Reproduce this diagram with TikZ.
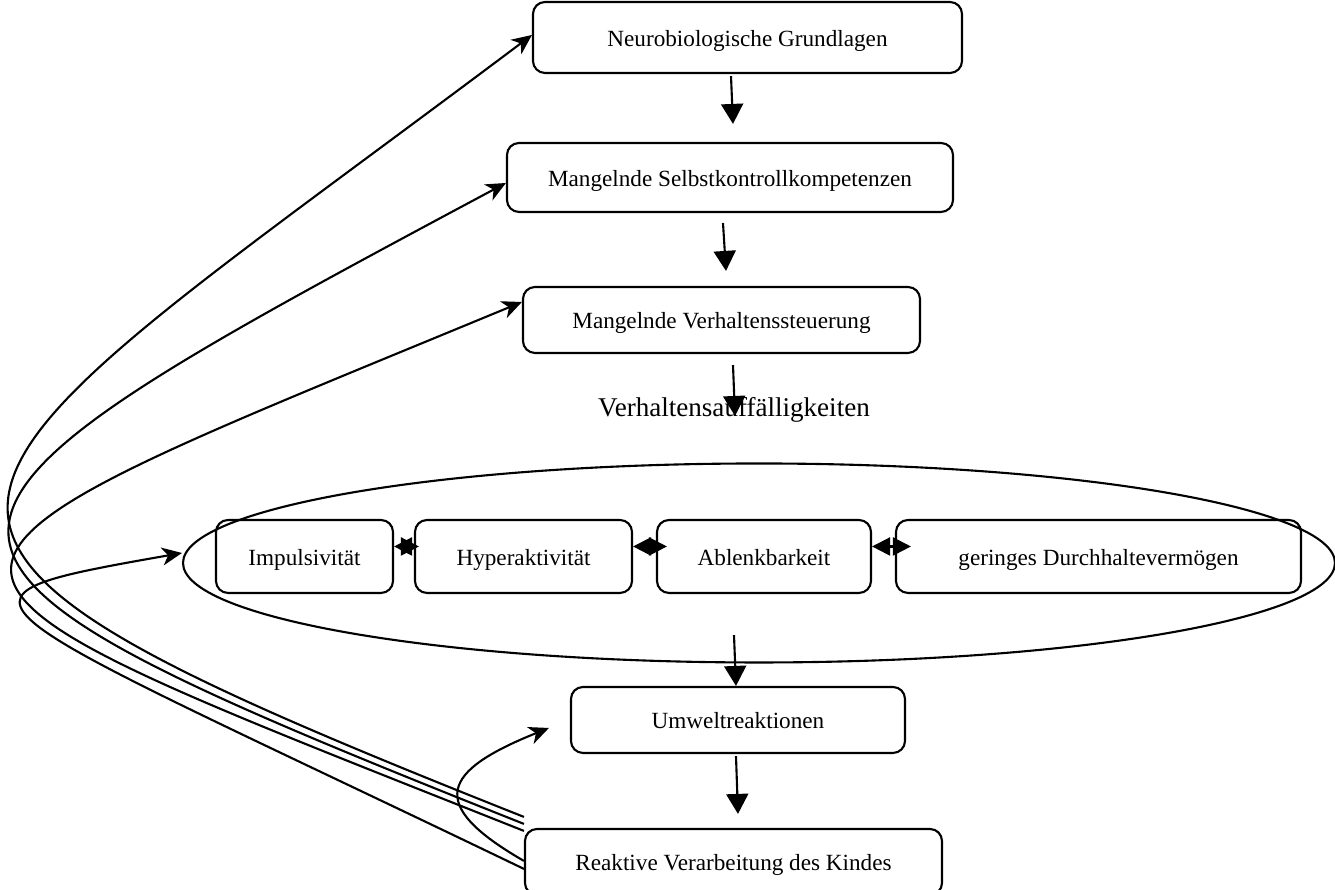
\documentclass[tikz,border=0pt]{standalone}
\usepackage{fontspec}
\setmainfont{Liberation Serif}
\usetikzlibrary{arrows.meta,shapes.geometric}

\begin{document}
\begin{tikzpicture}[font=\fontsize{6.6}{8}\selectfont, line width=0.6pt,
      bx/.style={draw,rounded corners=1.2mm,minimum height=0.69cm,inner sep=1pt,text height=1.55ex,text depth=0.45ex},
      dn/.style={-{Triangle[length=2mm,width=2.2mm]}},
      dbl/.style={{Triangle[length=1.8mm,width=1.8mm]}-{Triangle[length=1.8mm,width=1.8mm]}},
      cv/.style={-{Stealth[length=2mm,width=1.8mm,inset=0.6mm]}}]
    \useasboundingbox (0,0) rectangle (13.35,8.9);
    \node[bx,minimum width=4.29cm,minimum height=0.71cm] (neuro) at (7.475,8.525) {Neurobiologische Grundlagen};
    \node[bx,minimum width=4.46cm] (selbst) at (7.30,7.125) {Mangelnde Selbstkontrollkompetenzen};
    \node[bx,minimum width=3.97cm,minimum height=0.66cm] (verh) at (7.215,5.70) {Mangelnde Verhaltenssteuerung};
    \node[font=\fontsize{7.7}{9}\selectfont] (auff) at (7.34,4.80) {Verhaltensauffälligkeiten};
    \node[draw,ellipse,minimum width=11.52cm,minimum height=1.99cm,inner sep=0pt] (grp) at (7.59,3.27) {};
    \node[bx,minimum width=1.77cm,minimum height=0.73cm] (imp) at (3.045,3.335) {Impulsivität};
    \node[bx,minimum width=2.17cm,minimum height=0.73cm] (hyp) at (5.235,3.335) {Hyperaktivität};
    \node[bx,minimum width=2.14cm,minimum height=0.73cm] (abl) at (7.64,3.335) {Ablenkbarkeit};
    \node[bx,minimum width=4.05cm,minimum height=0.73cm] (ger) at (10.985,3.335) {geringes Durchhaltevermögen};
    \node[bx,minimum width=3.34cm,minimum height=0.66cm] (umw) at (7.38,1.70) {Umweltreaktionen};
    \node[bx,minimum width=4.17cm,minimum height=0.66cm] (reak) at (7.335,0.28) {Reaktive Verarbeitung des Kindes};
    \draw[dn] ([shift={(-1.65mm,-0.2mm)}]neuro.south) -- ([shift={(0.3mm,1.8mm)}]selbst.north);
    \draw[dn] ([shift={(-0.7mm,-1mm)}]selbst.south) -- ([shift={(0.45mm,1.5mm)}]verh.north);
    \draw[dn] ([shift={(1.15mm,-1.1mm)}]verh.south) -- ([shift={(0.1mm,-0.6mm)}]auff.center);
    \draw[dn] ([shift={(-2.5mm,2.85mm)}]grp.south) -- ([shift={(-0.2mm,0mm)}]umw.north);
    \draw[dn] ([shift={(-0.2mm,-0.2mm)}]umw.south) -- ([shift={(0.45mm,1.4mm)}]reak.north);
    \draw[dbl] ([yshift=1mm]imp.east) -- ([shift={(0.5mm,1mm)}]hyp.west);
    \draw[dbl] ([yshift=1mm]hyp.east) -- ([shift={(1.1mm,1mm)}]abl.west);
    \draw[dbl] ([yshift=1mm]abl.east) -- ([shift={(1.6mm,1mm)}]ger.west);
    \draw[cv] ([yshift=1.1mm]reak.north west) .. controls (-2.19,3.68) and (-1.07,3.75) .. ([yshift=0.25mm]neuro.west);
    \draw[cv] ([yshift=0.4mm]reak.north west) .. controls (-1.68,3.41) and (-1.49,3.57) .. ([yshift=-0.55mm]selbst.west);
    \draw[cv] ([yshift=-0.3mm]reak.north west) .. controls (-1.60,3.31) and (-1.55,3.08) .. ([yshift=1.8mm]verh.west);
    \draw[cv] ([yshift=-4.1mm]reak.north west) .. controls (-0.45,2.95) and (-0.85,2.9) .. ([yshift=1mm]grp.west);
    \draw[cv] ([yshift=-3.3mm]reak.north west) .. controls (4.25,0.86) and (4.42,1.19) .. ([shift={(-2.1mm,-0.8mm)}]umw.west);
  \end{tikzpicture}
\end{document}
